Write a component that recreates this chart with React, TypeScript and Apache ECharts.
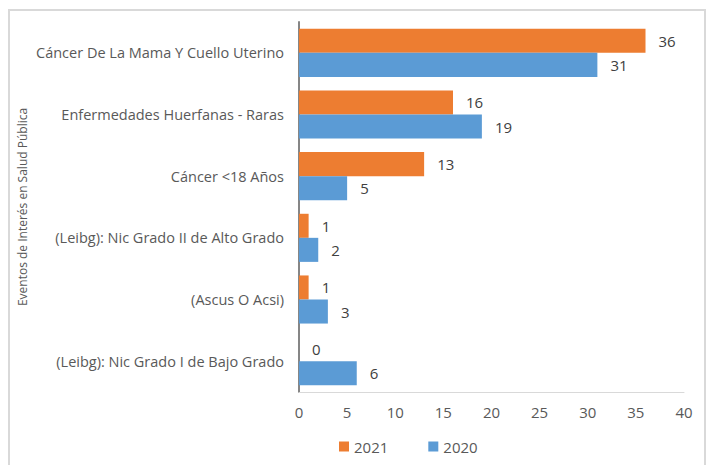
import React, { useEffect, useRef } from "react";
import * as echarts from "echarts";

const categories = [
  "Cáncer De La Mama Y Cuello Uterino",
  "Enfermedades Huerfanas - Raras",
  "Cáncer <18 Años",
  "(Leibg): Nic Grado II de Alto Grado",
  "(Ascus O Acsi)",
  "(Leibg): Nic Grado I de Bajo Grado",
];
const values2021 = [36, 16, 13, 1, 1, 0];
const values2020 = [31, 19, 5, 2, 3, 6];
const xTicks = { min: 0, max: 40, interval: 5 };
const yTitle = "Eventos de Interés en Salud Pública";

const FONT = "'Open Sans', 'Noto Sans', sans-serif";

export default function App() {
  const ref = useRef<HTMLDivElement>(null);
  useEffect(() => {
    if (!ref.current) return;
    const chart = echarts.init(ref.current, null, { renderer: "svg" });
    const label = {
      show: true,
      position: "right",
      distance: 13,
      color: "#404040",
      fontSize: 15,
      fontFamily: FONT,
    };
    chart.setOption({
      animation: false,
      textStyle: { fontFamily: FONT },
      graphic: [
        {
          type: "rect",
          shape: { x: 9, y: 10, width: 696, height: 470 },
          style: { fill: "none", stroke: "#d9d9d9", lineWidth: 2 },
          silent: true,
        },
      ],
      legend: {
        data: ["2021", "2020"],
        bottom: 6,
        left: 334,
        itemWidth: 10,
        itemHeight: 10,
        itemGap: 40,
        icon: "rect",
        textStyle: { color: "#595959", fontSize: 15, fontFamily: FONT },
      },
      grid: { left: 299, right: 25, top: 22, bottom: 73, containLabel: false },
      xAxis: {
        type: "value",
        min: xTicks.min,
        max: xTicks.max,
        interval: xTicks.interval,
        axisLine: { show: true, lineStyle: { color: "#d9d9d9", width: 1 } },
        axisTick: { show: false },
        splitLine: { show: false },
        axisLabel: { color: "#595959", fontSize: 15, margin: 12, fontFamily: FONT },
      },
      yAxis: {
        type: "category",
        data: categories,
        inverse: true,
        axisLine: { show: true, lineStyle: { color: "#868686", width: 2 } },
        axisTick: { show: false },
        axisLabel: { color: "#595959", fontSize: 14.5, margin: 15, fontFamily: FONT },
        name: yTitle,
        nameLocation: "middle",
        nameGap: 271,
        nameMoveOverlap: false,
        nameTextStyle: { color: "#595959", fontSize: 12, fontFamily: FONT },
      },
      series: [
        {
          name: "2021",
          type: "bar",
          data: values2021,
          itemStyle: { color: "#ed7d31" },
          barGap: "0%",
          barCategoryGap: "22%",
          label,
        },
        {
          name: "2020",
          type: "bar",
          data: values2020,
          itemStyle: { color: "#5b9bd5" },
          barGap: "0%",
          barCategoryGap: "22%",
          label,
        },
      ],
    });
    return () => chart.dispose();
  }, []);
  return (
    <div
      ref={ref}
      style={{ position: "fixed", left: 0, top: 0, width: 709, height: 465, background: "#fff" }}
    />
  );
}
